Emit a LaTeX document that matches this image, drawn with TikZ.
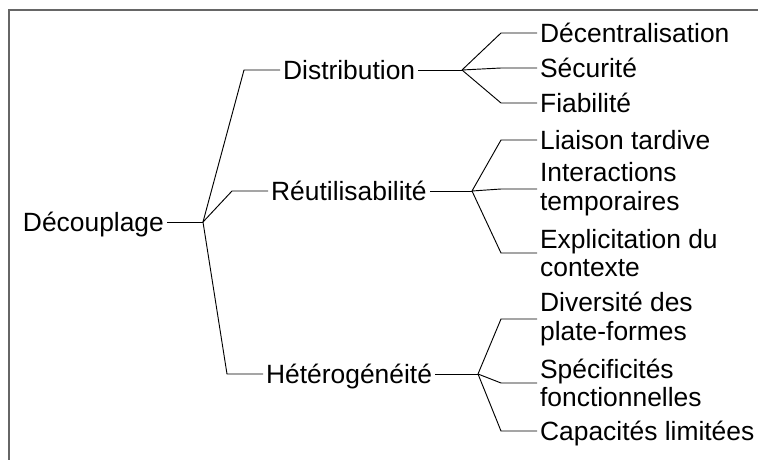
\documentclass[tikz,border=0pt]{standalone}
\usepackage{fontspec}
\setmainfont{Liberation Sans}
\usepackage{tikz}
\definecolor{gris}{rgb}{0.4,0.4,0.4}

\begin{document}
\begin{tikzpicture}[x=0.75pt, y=-0.75pt, line width=0.7pt]
	\tikzstyle{terme}=[inner xsep=2pt, inner ysep=0pt, text height=15.8pt, text depth=2pt, font=\fontsize{19.8}{21.5}\selectfont]
	\tikzstyle{terme2}=[inner xsep=2pt, inner ysep=0pt, align=left, font=\fontsize{19.8}{21.5}\selectfont]
	\tikzstyle{branche}=[to path={-- ++(-36,0) -- (\tikztotarget)}]

	\useasboundingbox (0,0) rectangle (758,460);
	\draw[gris, line width=0.8pt] (9,460) -- (9,10) -- (758,10);

	% RACINE
	\node[terme, anchor=east] (DEC) at (167,222) {Découplage};
	\coordinate (J0) at (203,222);

	% NIVEAU 1
	\node[terme, anchor=west] (DIS) at (280,70) {Distribution};
	\node[terme, anchor=west] (REU) at (268,191) {Réutilisabilité};
	\node[terme, anchor=west] (HET) at (263,374) {Hétérogénéité};
	\coordinate (J1) at (462,70);
	\coordinate (J2) at (472,191);
	\coordinate (J3) at (478,374);

	% NIVEAU 2
	\node[terme, anchor=west] (D1) at (537,33) {Décentralisation};
	\node[terme, anchor=west] (D2) at (537,68) {Sécurité};
	\node[terme, anchor=west] (D3) at (537,103) {Fiabilité};
	\node[terme, anchor=west] (R1) at (537,140) {Liaison tardive};
	\node[terme2, anchor=west] (R2) at (537,189) {Interactions\\temporaires};
	\node[terme2, anchor=west] (R3) at (537,253) {Explicitation du\\contexte};
	\node[terme2, anchor=west] (H1) at (537,319) {Diversité des\\plate-formes};
	\node[terme2, anchor=west] (H2) at (537,383) {Spécificités\\fonctionnelles};
	\node[terme, anchor=west] (H3) at (537,431) {Capacités limitées};

	% LIENS
	\path
		(DEC.east) edge (J0)
		(DIS.west) edge [branche] (J0)
		(REU.west) edge [branche] (J0)
		(HET.west) edge [branche] (J0)

		(DIS.east) edge (J1)
		(D1.west) edge [branche] (J1)
		(D2.west) edge [branche] (J1)
		(D3.west) edge [branche] (J1)

		(REU.east) edge (J2)
		(R1.west) edge [branche] (J2)
		(R2.west) edge [branche] (J2)
		(R3.west) edge [branche] (J2)

		(HET.east) edge (J3)
		(H1.west) edge [branche] (J3)
		(H2.west) edge [branche] (J3)
		(H3.west) edge [branche] (J3)
	;
\end{tikzpicture}
\end{document}
